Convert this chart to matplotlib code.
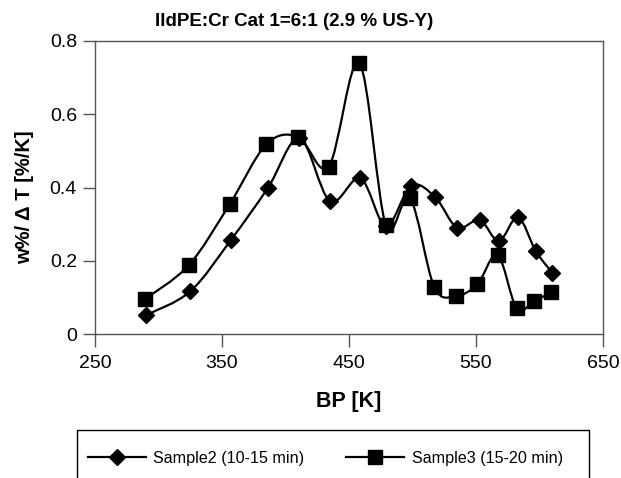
import matplotlib
matplotlib.use("Agg")
import matplotlib.pyplot as plt
from matplotlib.path import Path
from matplotlib.patches import PathPatch, Rectangle
from matplotlib.lines import Line2D

plt.rcParams['font.family'] = ['Liberation Sans', 'DejaVu Sans']

title = "IldPE:Cr Cat 1=6:1 (2.9 % US-Y)"
xlabel = "BP [K]"
ylabel = "w%/ Δ T [%/K]"
series_names = ["Sample2 (10-15 min)", "Sample3 (15-20 min)"]

x2 = [290, 325, 357, 386, 411, 435, 459, 479, 499, 518, 535, 553, 568, 583, 597, 610]
y2 = [0.052, 0.117, 0.257, 0.398, 0.534, 0.363, 0.425, 0.295, 0.405, 0.373,
      0.291, 0.311, 0.254, 0.319, 0.227, 0.168]
x3 = [289, 324, 356, 385, 410, 434, 458, 479, 498, 517, 534, 551, 567, 582, 596, 609]
y3 = [0.095, 0.189, 0.354, 0.518, 0.538, 0.457, 0.740, 0.298, 0.371, 0.130,
      0.104, 0.136, 0.216, 0.071, 0.091, 0.114]

xticks = [250, 350, 450, 550, 650]
yticks = [0, 0.2, 0.4, 0.6, 0.8]
ytick_labels = ["0", "0.2", "0.4", "0.6", "0.8"]


def smooth_path(xs, ys):
    pts = list(zip(xs, ys))
    n = len(pts)
    verts = [pts[0]]
    codes = [Path.MOVETO]
    for i in range(n - 1):
        p0 = pts[i - 1] if i > 0 else pts[i]
        p1 = pts[i]
        p2 = pts[i + 1]
        p3 = pts[i + 2] if i + 2 < n else pts[i + 1]
        c1 = (p1[0] + (p2[0] - p0[0]) / 6.0, p1[1] + (p2[1] - p0[1]) / 6.0)
        c2 = (p2[0] - (p3[0] - p1[0]) / 6.0, p2[1] - (p3[1] - p1[1]) / 6.0)
        verts += [c1, c2, p2]
        codes += [Path.CURVE4] * 3
    return Path(verts, codes)


fig = plt.figure(figsize=(6.21, 4.78), dpi=100)
W, H = 621, 478
ax = fig.add_axes([95 / W, 1 - 334.3 / H, (603 - 95) / W, (334.3 - 40.7) / H])

for xs, ys, mk, ms in [(x2, y2, 'D', 8), (x3, y3, 's', 9.5)]:
    ax.add_patch(PathPatch(smooth_path(xs, ys), facecolor='none', edgecolor='black',
                           lw=1.6, transform=ax.transData, zorder=2))
    ax.plot(xs, ys, ls='none', marker=mk, ms=ms, color='black', zorder=3)

ax.set_xlim(250, 650)
ax.set_ylim(0, 0.8)
ax.set_xticks(xticks)
ax.set_xticklabels([str(t) for t in xticks])
ax.set_yticks(yticks)
ax.set_yticklabels(ytick_labels)
for s in ax.spines.values():
    s.set_color('#555555')
    s.set_linewidth(1.0)
ax.tick_params(direction='out', length=9, width=1.0, color='#555555',
               labelsize=14)
ax.tick_params(axis='x', pad=6)
ax.tick_params(axis='y', pad=4)

fig.text(294 / W, 1 - 21.5 / H, title, ha='center', va='center',
         fontsize=13.5, fontweight='bold')
fig.text(349 / W, 1 - 402 / H, xlabel, ha='center', va='center',
         fontsize=15.5, fontweight='bold')
fig.text(25 / W, 1 - 197 / H, ylabel, ha='center', va='center', rotation=90,
         fontsize=14.5, fontweight='bold')

# legend frame (extends past the bottom edge as in the reference)
fig.patches.append(Rectangle((77 / W, -0.05), 512 / W, 0.05 + (478 - 430) / H,
                             transform=fig.transFigure, facecolor='white',
                             edgecolor='black', lw=1.0, zorder=1))

handles = [Line2D([], [], color='black', lw=1.6, marker='D', ms=8),
           Line2D([], [], color='black', lw=1.6, marker='s', ms=9.5)]
leg = fig.legend(handles, series_names, loc='upper left', ncol=2,
                 bbox_to_anchor=(88 / W, 1 - 451 / H),
                 fontsize=11.6, frameon=False,
                 handlelength=3.6, handletextpad=0.45, borderpad=0,
                 columnspacing=2.6, borderaxespad=0)
leg.set_zorder(2)

fig.savefig("out.png", dpi=100)
